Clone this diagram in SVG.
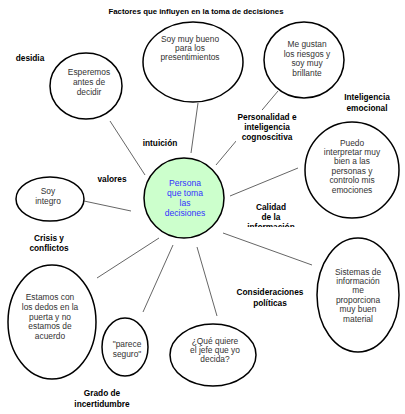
<svg xmlns="http://www.w3.org/2000/svg" width="405" height="414" viewBox="0 0 405 414">
<style>
.bg{fill:#ffffff}
.node{fill:#ffffff;stroke:#000000;stroke-width:1.5}
.center{fill:#ccffcc;stroke:#000000;stroke-width:1.5}
.t{font-family:"Liberation Sans",Arial,sans-serif;font-size:8.4px;fill:#333333;text-anchor:middle}
.ct{font-family:"Liberation Sans",Arial,sans-serif;font-size:8.6px;fill:#3333ff;text-anchor:middle}
.lbl{font-family:"Liberation Sans",Arial,sans-serif;font-size:8.3px;font-weight:bold;fill:#000000;text-anchor:middle}
.title{font-family:"Liberation Sans",Arial,sans-serif;font-size:7.8px;font-weight:bold;fill:#000000;text-anchor:middle}
.c{stroke:#666666;stroke-width:1;fill:none}
</style>
<defs>
<clipPath id="clipCal"><rect x="240" y="198" width="70" height="29"/></clipPath>
</defs>
<rect class="bg" x="0" y="0" width="405" height="414"/>
<text class="title" x="196" y="14">Factores que influyen en la toma de decisiones</text>
<g id="connectors">
<line class="c" x1="110" y1="121" x2="145" y2="175"/>
<line class="c" x1="198" y1="103" x2="191" y2="153"/>
<line class="c" x1="278" y1="91" x2="216" y2="165"/>
<line class="c" x1="298" y1="168" x2="230" y2="196"/>
<line class="c" x1="84" y1="201" x2="131" y2="211"/>
<line class="c" x1="223" y1="233" x2="312" y2="265"/>
<line class="c" x1="159" y1="238" x2="97" y2="278"/>
<line class="c" x1="173" y1="245" x2="143" y2="312"/>
<line class="c" x1="197" y1="247" x2="217" y2="316"/>
</g>
<g id="labels">
<text class="lbl" x="30" y="61">desidia</text>
<text class="lbl" x="160" y="146">intuición</text>
<g id="lbl-personalidad">
<rect class="bg" x="236" y="110" width="64" height="37"/>
<text class="lbl" x="267" y="120">Personalidad e</text>
<text class="lbl" x="267" y="130">inteligencia</text>
<text class="lbl" x="267" y="140">cognoscitiva</text>
</g>
<text class="lbl" x="367" y="100">Inteligencia</text>
<text class="lbl" x="367" y="111">emocional</text>
<text class="lbl" x="112" y="182">valores</text>
<g clip-path="url(#clipCal)">
<text class="lbl" x="271" y="210">Calidad</text>
<text class="lbl" x="271" y="220">de la</text>
<text class="lbl" x="271" y="230">información</text>
</g>
<text class="lbl" x="49" y="241">Crisis y</text>
<text class="lbl" x="49" y="251">conflictos</text>
<text class="lbl" x="270" y="295">Consideraciones</text>
<text class="lbl" x="270" y="306">políticas</text>
<text class="lbl" x="102" y="396">Grado de</text>
<text class="lbl" x="102" y="407">incertidumbre</text>
</g>
<g id="center">
<circle class="center" cx="184" cy="198" r="40"/>
<text class="ct" x="185" y="186">Persona</text>
<text class="ct" x="185" y="196">que toma</text>
<text class="ct" x="185" y="206">las</text>
<text class="ct" x="185" y="216">decisiones</text>
</g>
<g id="n-esperemos">
<ellipse class="node" cx="86" cy="86" rx="36" ry="33"/>
<text class="t" x="89" y="75">Esperemos</text>
<text class="t" x="89" y="85">antes de</text>
<text class="t" x="89" y="95">decidir</text>
</g>
<g id="n-presentimientos">
<ellipse class="node" cx="193" cy="62" rx="50" ry="40"/>
<text class="t" x="190" y="42">Soy muy bueno</text>
<text class="t" x="190" y="51">para los</text>
<text class="t" x="190" y="60">presentimientos</text>
</g>
<g id="n-riesgos">
<ellipse class="node" cx="304" cy="60" rx="40" ry="38"/>
<text class="t" x="307" y="47">Me gustan</text>
<text class="t" x="307" y="57">los riesgos y</text>
<text class="t" x="307" y="66">soy muy</text>
<text class="t" x="307" y="76">brillante</text>
</g>
<g id="n-puedo">
<ellipse class="node" cx="352" cy="170" rx="47" ry="48"/>
<text class="t" x="352" y="146">Puedo</text>
<text class="t" x="352" y="155">interpretar muy</text>
<text class="t" x="352" y="164">bien a las</text>
<text class="t" x="352" y="174">personas y</text>
<text class="t" x="352" y="183">controlo mis</text>
<text class="t" x="352" y="193">emociones</text>
</g>
<g id="n-integro">
<ellipse class="node" cx="50" cy="199" rx="34" ry="22"/>
<text class="t" x="48" y="194">Soy</text>
<text class="t" x="48" y="204">integro</text>
</g>
<g id="n-sistemas">
<ellipse class="node" cx="358" cy="295" rx="41" ry="57"/>
<text class="t" x="358" y="275">Sistemas de</text>
<text class="t" x="358" y="284">información</text>
<text class="t" x="358" y="293">me</text>
<text class="t" x="358" y="303">proporciona</text>
<text class="t" x="358" y="312">muy buen</text>
<text class="t" x="358" y="322">material</text>
</g>
<g id="n-estamos">
<ellipse class="node" cx="52" cy="322" rx="44" ry="57"/>
<text class="t" x="50" y="300">Estamos con</text>
<text class="t" x="50" y="310">los dedos en la</text>
<text class="t" x="50" y="320">puerta y no</text>
<text class="t" x="50" y="329">estamos de</text>
<text class="t" x="50" y="339">acuerdo</text>
</g>
<g id="n-parece">
<ellipse class="node" cx="125" cy="347" rx="23" ry="29"/>
<text class="t" x="127" y="347">"parece</text>
<text class="t" x="127" y="357">seguro"</text>
</g>
<g id="n-jefe">
<ellipse class="node" cx="213" cy="355" rx="43" ry="31"/>
<text class="t" x="215" y="344">¿Qué quiere</text>
<text class="t" x="215" y="353">el jefe que yo</text>
<text class="t" x="215" y="362">decida?</text>
</g>
</svg>
